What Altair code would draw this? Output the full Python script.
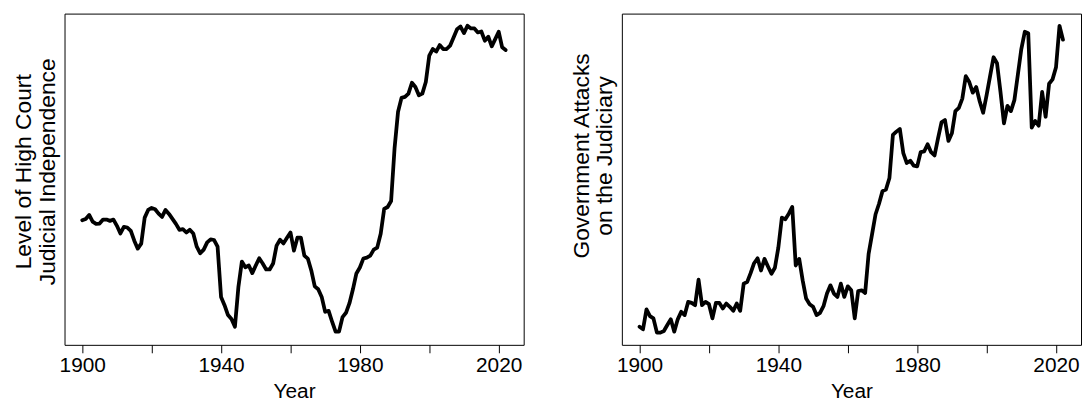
import altair as alt
import pandas as pd

years = list(range(1900, 2023))

# Level of High Court Judicial Independence (arbitrary units)
independence = [
    125.7, 127, 131, 124.3, 122, 122.3, 126.3, 126.3, 125, 126.3,
    120, 112.3, 119, 118.3, 115, 105, 97, 102, 128.3, 136,
    138, 136.7, 132.3, 129, 136, 132, 127, 122, 116, 116.7,
    113.3, 116, 112.3, 99, 92.3, 96, 103.3, 106.3, 105.7, 99,
    48.3, 40, 30, 26, 18.3, 58.3, 84, 78.3, 80, 72.3,
    80, 87.3, 82, 76, 76, 82, 100, 106, 102.3, 108,
    113.3, 95, 108, 108, 90, 87, 75, 59, 56, 48.3,
    33.3, 34.3, 23.3, 13.3, 13.3, 28, 32.3, 42, 56, 72,
    78, 87, 88, 90, 96, 98, 112, 137, 139, 145,
    198.3, 235, 249, 250, 253.3, 264.3, 260, 251.7, 253.3, 265,
    291.7, 298.3, 295.7, 302.3, 298.3, 298.3, 301.7, 310, 318.3, 321,
    314.3, 321.7, 319, 319, 315, 316, 306.7, 310.7, 301, 308.3,
    315.7, 300, 297.3,
]

# Government Attacks on the Judiciary (arbitrary units)
attacks = [
    18.3, 15.7, 35.7, 29, 26.7, 12.3, 12.3, 14, 20, 25.7,
    13.3, 25.7, 33.3, 30, 43.3, 42.3, 40, 65.7, 40, 43.3,
    41, 26.7, 42.3, 42.3, 36.7, 41.7, 38.3, 34.3, 41.7, 34.3,
    61.7, 63.3, 72.3, 82.3, 87.3, 75, 86.7, 79, 71.7, 77.7,
    98.3, 128.3, 126.7, 132.3, 139, 80, 86.7, 65, 46.7, 41,
    38.3, 30, 32.3, 39, 51.7, 60, 51.7, 48.3, 61.7, 48.3,
    59, 55, 26.7, 54.3, 55, 52.3, 91.7, 111.7, 131.7, 142.3,
    155, 156.7, 168.3, 211.7, 215, 217.7, 193.3, 183.3, 185.7, 180.7,
    180, 194.3, 195, 202.3, 194.3, 191, 208.3, 224.3, 226.7, 205.7,
    213.3, 235.7, 239, 248.3, 271, 265, 254.3, 260, 245.7, 234,
    251.7, 271, 290, 284, 255, 223.3, 241, 235.7, 246.7, 272.3,
    298.3, 315.7, 314.3, 219, 225.7, 221, 255, 230, 263.3, 267.7,
    280, 321.7, 307.7,
]

tick_years = [1900, 1920, 1940, 1960, 1980, 2000, 2020]
left_title = ["Level of High Court", "Judicial Independence"]
right_title = ["Government Attacks", "on the Judiciary" + "\u00a0" * 6]

FONT = "Liberation Sans"


def panel(values, title, title_y):
    df = pd.DataFrame({"Year": years, "Value": values})
    return (
        alt.Chart(df)
        .mark_line(color="black", strokeWidth=3.8, strokeJoin="round", strokeCap="round")
        .encode(
            x=alt.X(
                "Year:Q",
                scale=alt.Scale(domain=[1894.9, 2027.2], nice=False, zero=False),
                axis=alt.Axis(
                    values=tick_years,
                    format="d",
                    labelExpr="(datum.value - 1900) % 40 == 0 ? datum.label : ''",
                    title="Year",
                    grid=False,
                    domain=False,
                    tickSize=8,
                    tickColor="black",
                    tickWidth=1,
                    labelFont=FONT,
                    labelFontSize=21,
                    labelColor="black",
                    labelPadding=2,
                    labelFlush=False,
                    labelOverlap=False,
                    titleFont=FONT,
                    titleFontSize=21,
                    titleFontWeight="normal",
                    titleColor="black",
                    titlePadding=5,
                ),
            ),
            y=alt.Y(
                "Value:Q",
                scale=alt.Scale(domain=[0, 334], nice=False, zero=False),
                axis=alt.Axis(
                    title=title,
                    ticks=False,
                    labels=False,
                    domain=False,
                    grid=False,
                    titleFont=FONT,
                    titleFontSize=23,
                    titleFontWeight="normal",
                    titleColor="black",
                    titleLineHeight=24,
                    titlePadding=5,
                    titleY=title_y,
                ),
            ),
        )
        .properties(width=463, height=334)
    )


left = panel(independence, left_title, 159)
right = panel(attacks, right_title, 143)

chart = (
    alt.hconcat(left, right, spacing=99, bounds="flush")
    .properties(padding={"left": 4, "top": 3, "right": 0, "bottom": 0})
    .configure(background="white")
    .configure_view(stroke="black", strokeWidth=1)
)

chart.save("out.html", embed_options={"renderer": "svg", "actions": False})
